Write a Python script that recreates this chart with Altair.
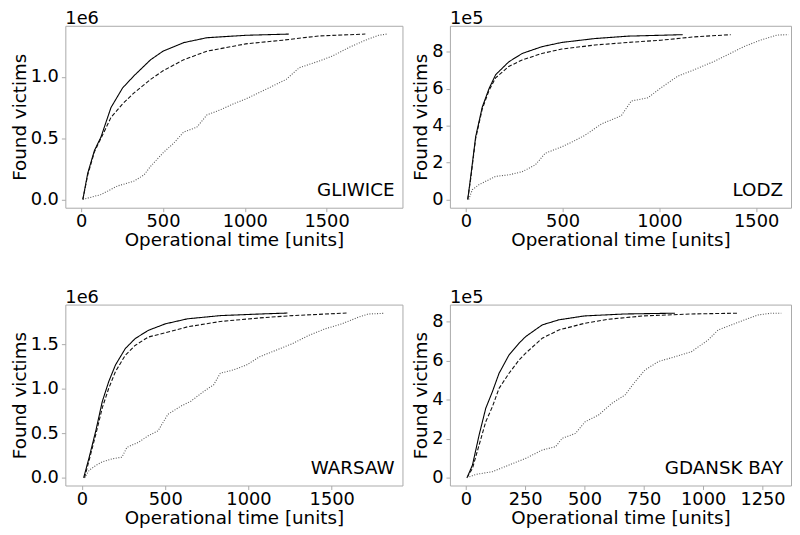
import altair as alt
import pandas as pd

# ---------------- data ----------------
# GLIWICE (victims)
GLI_SOLID_T = [10, 40, 81, 121, 182, 253, 323, 424, 500, 626, 768, 1006, 1269]
GLI_SOLID_V = [0, 215000, 400000, 510000, 750000, 910000, 1010000, 1140000, 1210000, 1280000, 1320000, 1340000, 1350000]
GLI_DASH_T = [10, 40, 81, 121, 150, 182, 253, 323, 424, 500, 626, 768, 1006, 1232, 1455, 1737]
GLI_DASH_V = [0, 200000, 390000, 500000, 580000, 670000, 780000, 870000, 980000, 1050000, 1140000, 1210000, 1270000, 1300000, 1335000, 1350000]
GLI_DOT_T = [10, 121, 222, 323, 384, 424, 500, 566, 626, 707, 768, 848, 929, 1006, 1131, 1253, 1333, 1455, 1535, 1636, 1737, 1818, 1869]
GLI_DOT_V = [0, 40000, 110000, 150000, 200000, 270000, 380000, 460000, 550000, 590000, 690000, 730000, 780000, 820000, 900000, 980000, 1075000, 1130000, 1170000, 1240000, 1300000, 1340000, 1350000]

# LODZ
LOD_SOLID_T = [10, 25, 51, 85, 120, 154, 222, 291, 393, 496, 667, 838, 1120]
LOD_SOLID_V = [0, 120000, 340000, 500000, 600000, 675000, 745000, 790000, 827000, 850000, 871000, 884000, 892000]
LOD_DASH_T = [10, 25, 51, 85, 120, 154, 222, 291, 393, 496, 667, 838, 1008, 1180, 1368]
LOD_DASH_V = [0, 110000, 330000, 490000, 590000, 658000, 720000, 755000, 790000, 814000, 836000, 850000, 862000, 880000, 892000]
LOD_DOT_T = [15, 34, 68, 154, 222, 291, 359, 410, 496, 547, 615, 701, 803, 855, 940, 1008, 1094, 1180, 1282, 1350, 1436, 1521, 1607, 1667]
LOD_DOT_V = [0, 53000, 80000, 125000, 133000, 150000, 187000, 250000, 285000, 310000, 347000, 409000, 453000, 533000, 550000, 604000, 667000, 702000, 747000, 782000, 827000, 862000, 890000, 892000]

# WARSAW
WAR_SOLID_T = [10, 43, 83, 122, 161, 201, 260, 319, 398, 500, 634, 831, 1067, 1234]
WAR_SOLID_V = [0, 230000, 530000, 860000, 1085000, 1270000, 1455000, 1567000, 1660000, 1733000, 1790000, 1826000, 1844000, 1855000]
WAR_DASH_T = [15, 43, 83, 122, 161, 201, 260, 319, 398, 500, 634, 831, 1067, 1264, 1589]
WAR_DASH_V = [0, 200000, 490000, 790000, 1010000, 1196000, 1380000, 1490000, 1585000, 1633000, 1700000, 1760000, 1800000, 1826000, 1855000]
WAR_DOT_T = [15, 43, 83, 122, 181, 240, 270, 339, 398, 457, 516, 594, 654, 732, 791, 831, 909, 988, 1067, 1166, 1264, 1363, 1461, 1560, 1659, 1718, 1817]
WAR_DOT_V = [0, 85000, 140000, 180000, 215000, 233000, 344000, 400000, 474000, 530000, 715000, 807000, 863000, 974000, 1048000, 1178000, 1215000, 1270000, 1363000, 1437000, 1511000, 1604000, 1678000, 1733000, 1807000, 1844000, 1852000]

# GDANSK BAY
GDA_SOLID_T = [5, 28, 56, 84, 112, 140, 182, 224, 252, 322, 392, 500, 671, 881]
GDA_SOLID_V = [0, 65000, 219000, 356000, 441000, 535000, 629000, 689000, 723000, 783000, 809000, 829000, 839000, 843000]
GDA_DASH_T = [5, 28, 56, 84, 112, 140, 182, 224, 252, 322, 392, 500, 601, 748, 951, 1147]
GDA_DASH_V = [0, 48000, 168000, 287000, 364000, 458000, 535000, 603000, 638000, 715000, 757000, 791000, 812000, 829000, 839000, 843000]
GDA_DOT_T = [5, 42, 112, 182, 252, 322, 378, 406, 462, 503, 559, 615, 671, 713, 755, 811, 881, 951, 1021, 1063, 1119, 1175, 1231, 1287, 1329]
GDA_DOT_V = [0, 17000, 31000, 65000, 99000, 142000, 159000, 202000, 227000, 287000, 321000, 381000, 424000, 492000, 552000, 595000, 620000, 646000, 706000, 757000, 783000, 809000, 834000, 843000, 843000]

SERIES = ["solid", "dashed", "dotted"]
FONT = "DejaVu Sans"
FS = 18
FS_TITLE = 18.5
FRAME = "#aaaaaa"


def frame_df(pairs):
    rows = []
    for s, (t, v) in zip(SERIES, pairs):
        for i, (a, b) in enumerate(zip(t, v)):
            rows.append({"series": s, "t": a, "v": b, "order": i})
    return pd.DataFrame(rows)


def panel(name, pairs, xdom, xticks, ydom, yticks, exp, w, h):
    df = frame_df(pairs)
    div = 10 ** exp
    if exp == 6:
        lab = f"format(datum.value/{div}, '.1f')"
    else:
        lab = f"format(datum.value/{div}, 'd')"
    x = alt.X("t:Q", scale=alt.Scale(domain=xdom, nice=False, zero=False),
              axis=alt.Axis(values=xticks, title="Operational time [units]", format="d"))
    y = alt.Y("v:Q", scale=alt.Scale(domain=ydom, nice=False, zero=False),
              axis=alt.Axis(values=yticks, title="Found victims", labelExpr=lab))
    lines = alt.Chart(df).mark_line(strokeWidth=1.1, clip=True).encode(
        x=x, y=y,
        color=alt.Color("series:N", scale=alt.Scale(domain=SERIES, range=["#000000", "#111111", "#555555"]), legend=None),
        strokeDash=alt.StrokeDash("series:N", scale=alt.Scale(domain=SERIES, range=[[1, 0], [4, 2], [1, 1.6]]), legend=None),
        order="order:Q",
        detail="series:N",
    )
    label = alt.Chart(pd.DataFrame({"name": [name]})).mark_text(
        align="right", baseline="alphabetic", font=FONT, fontSize=FS_TITLE, color="black"
    ).encode(text="name:N", x=alt.value(w - 8), y=alt.value(h - 12))
    return alt.layer(lines, label).properties(
        width=w, height=h,
        title=alt.TitleParams(f"1e{exp}", anchor="start", frame="group", font=FONT, fontSize=FS,
                              fontWeight="normal", color="black", offset=-2.5),
    )


p1 = panel("GLIWICE", [(GLI_SOLID_T, GLI_SOLID_V), (GLI_DASH_T, GLI_DASH_V), (GLI_DOT_T, GLI_DOT_V)],
           [-97, 1964], [0, 500, 1000, 1500], [-67500, 1417500], [0, 500000, 1000000], 6, 341, 184)
p2 = panel("LODZ", [(LOD_SOLID_T, LOD_SOLID_V), (LOD_DASH_T, LOD_DASH_V), (LOD_DOT_T, LOD_DOT_V)],
           [-82, 1680], [0, 500, 1000, 1500], [-44700, 940000], [0, 200000, 400000, 600000, 800000], 5, 345, 184)
p3 = panel("WARSAW", [(WAR_SOLID_T, WAR_SOLID_V), (WAR_DASH_T, WAR_DASH_V), (WAR_DOT_T, WAR_DOT_V)],
           [-100, 1925], [0, 500, 1000, 1500], [-86000, 1950000], [0, 500000, 1000000, 1500000], 6, 341, 183)
p4 = panel("GDANSK BAY", [(GDA_SOLID_T, GDA_SOLID_V), (GDA_DASH_T, GDA_DASH_V), (GDA_DOT_T, GDA_DOT_V)],
           [-67, 1370], [0, 250, 500, 750, 1000, 1250], [-40000, 887000], [0, 200000, 400000, 600000, 800000], 5, 345, 183)

chart = alt.concat(p1, p2, p3, p4, columns=2, spacing={"row": 98, "column": 48},
                   bounds="flush", align="each").properties(
    padding={"left": 1, "top": -1, "right": 0, "bottom": 0}
).configure_view(stroke=FRAME, strokeWidth=1).configure_axis(
    domain=False, grid=False, labelFont=FONT, titleFont=FONT, labelFontSize=FS, titleFontSize=FS_TITLE,
    labelColor="black", titleColor="black", titleFontWeight="normal", tickColor=FRAME, tickSize=4,
    labelFlush=False, labelOverlap=False,
).configure_axisY(titlePadding=1, labelPadding=3).configure_axisX(titlePadding=0.5, labelPadding=1)

chart.save("out.html", embed_options={"renderer": "svg", "actions": False})
